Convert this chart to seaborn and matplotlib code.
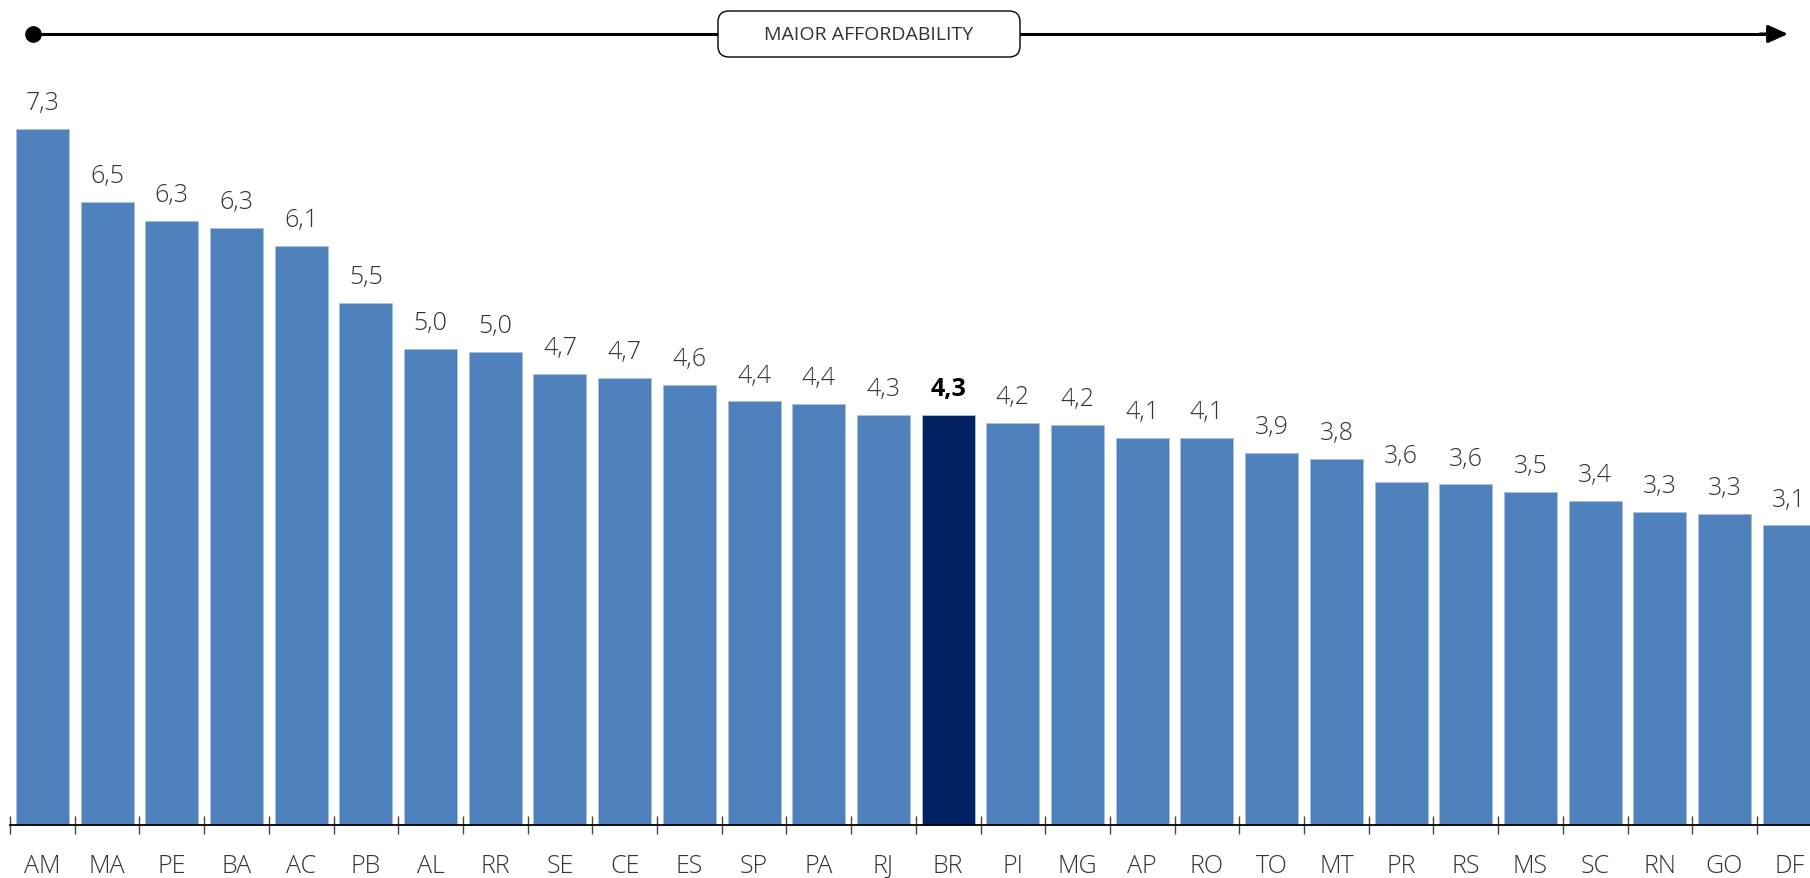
import matplotlib
matplotlib.use("Agg")
import matplotlib.pyplot as plt
from matplotlib.patches import FancyBboxPatch
import seaborn as sns
import pandas as pd

states = ["AM", "MA", "PE", "BA", "AC", "PB", "AL", "RR", "SE", "CE", "ES", "SP", "PA", "RJ",
          "BR", "PI", "MG", "AP", "RO", "TO", "MT", "PR", "RS", "MS", "SC", "RN", "GO", "DF"]
values = [7.30, 6.53, 6.33, 6.26, 6.07, 5.47, 4.99, 4.96, 4.73, 4.69, 4.61, 4.44, 4.41, 4.30,
          4.30, 4.21, 4.19, 4.06, 4.06, 3.90, 3.84, 3.60, 3.57, 3.49, 3.40, 3.28, 3.26, 3.14]
highlight = "BR"
title_text = "MAIOR AFFORDABILITY"

BLUE = "#4F81BD"
NAVY = "#002060"

sns.set_theme(style="white")
plt.rcParams["font.family"] = ["Open Sans", "DejaVu Sans"]

W, H, DPI = 1810, 879, 100
fig = plt.figure(figsize=(W / DPI, H / DPI), dpi=DPI)

# axes: left edge at x=10px, baseline at y=826px, one category = 64.7px, 1 unit = 95.4px
ymax = 8.0
unit = 95.4
cat = 64.7
left_px = 10
base_px = 826
ax = fig.add_axes([left_px / W, (H - base_px) / H, cat * len(states) / W, ymax * unit / H])

df = pd.DataFrame({"state": states, "value": values})
palette = {s: (NAVY if s == highlight else BLUE) for s in states}
sns.barplot(data=df, x="state", y="value", hue="state", palette=palette, order=states,
            hue_order=states, legend=False, width=0.82, saturation=1, ax=ax,
            edgecolor="#a9c0e0", linewidth=0.6)

ax.set_xlim(-0.5, len(states) - 0.5)
ax.set_ylim(0, ymax)
ax.set_xlabel("")
ax.set_ylabel("")
ax.set_yticks([])
for sp in ["top", "right", "left"]:
    ax.spines[sp].set_visible(False)
ax.spines["bottom"].set_color("black")
ax.spines["bottom"].set_linewidth(1.3)

ax.set_xticks(range(len(states)))
ax.set_xticklabels(states, fontsize=18, color="#333333", fontweight="light")
ax.tick_params(axis="x", which="major", bottom=True, length=0, pad=20)
ax.set_xticks([i - 0.5 for i in range(len(states) + 1)], minor=True)
ax.tick_params(axis="x", which="minor", bottom=True, direction="inout", length=13, width=1.0,
               color="#444444")

for i, (s, v) in enumerate(zip(states, values)):
    lbl = f"{v:.1f}".replace(".", ",")
    if s == highlight:
        ax.annotate(lbl, (i, v), xytext=(0, 10), textcoords="offset points", ha="center",
                    va="bottom", fontsize=18, fontweight="bold", color="black")
    else:
        ax.annotate(lbl, (i, v), xytext=(0, 10), textcoords="offset points", ha="center",
                    va="bottom", fontsize=18, fontweight="light", color="#333333")

# top arrow
y_arrow = 1 - 35 / H
fig.add_artist(plt.Line2D([33 / W, 1775 / W], [y_arrow, y_arrow], color="black", lw=2.2,
                          transform=fig.transFigure, zorder=1))
fig.add_artist(plt.Line2D([33 / W], [y_arrow], marker="o", markersize=11, color="black",
                          transform=fig.transFigure, zorder=1))
ax.annotate("", xy=(1788 / W, y_arrow), xytext=(1760 / W, y_arrow), xycoords="figure fraction",
            textcoords="figure fraction",
            arrowprops=dict(arrowstyle="-|>,head_length=1.0,head_width=0.45", color="black", lw=2.2,
                            shrinkA=0, shrinkB=0))

bx0, bx1, by0, by1 = 718, 1020, 12, 58
box = FancyBboxPatch((bx0 / W, 1 - by1 / H), (bx1 - bx0) / W, (by1 - by0) / H,
                     boxstyle="round,pad=0,rounding_size=0.006", transform=fig.transFigure,
                     facecolor="white", edgecolor="black", lw=1.0, mutation_aspect=W / H,
                     zorder=5)
fig.add_artist(box)
fig.text((bx0 + bx1) / 2 / W, y_arrow, title_text, ha="center", va="center", fontsize=14,
         color="#333333", zorder=6)

fig.savefig("out.png", dpi=DPI)
